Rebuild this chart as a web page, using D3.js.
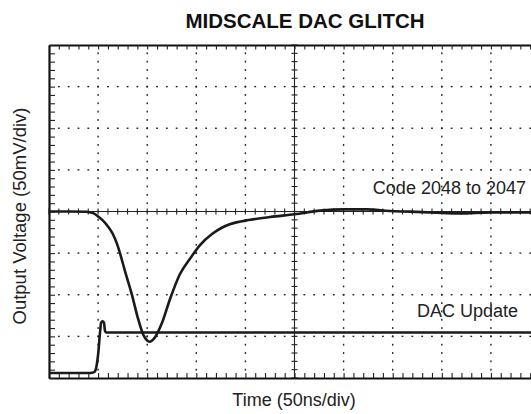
<!DOCTYPE html>
<html>
<head>
<meta charset="utf-8">
<script src="https://cdn.jsdelivr.net/npm/d3@7"></script>
<style>
  body { margin: 0; background: #fff; }
  svg { display: block; font-family: "Liberation Sans", Arial, sans-serif; }
</style>
</head>
<body>
<svg id="chart" width="531" height="414"></svg>
<script>
// glitch trace, Code 2048 -> 2047 (time ns, output mV)
const glitchTime = [0, 20, 38, 45, 50, 55, 60, 65, 69, 73, 77, 84, 91, 96, 100, 102, 105, 108, 115, 123, 133, 144, 154, 166, 176, 184, 205, 225, 250, 276, 300, 324, 347, 368, 395, 418, 450, 500];
const glitchMv   = [0, 0, -0.3, -2, -6, -11, -18, -27, -38, -53, -70, -98, -130, -148, -155, -156.5, -155, -151, -134, -106, -76, -56, -40, -27, -19.5, -15.4, -10, -6.6, -3.4, 1, 2.6, 2.6, 0.6, -0.2, -1.5, -2.2, -1, -1];

// DAC update strobe
const updateTime = [0, 42, 46, 48, 50, 52, 53, 54.5, 56, 57, 58, 500];
const updateMv   = [-194, -194, -193, -188, -172, -145, -134, -132, -133.5, -143.5, -145.4, -145.4];

const xTicksMajor = d3.range(0, 501, 50);
const xTicksMinor = d3.range(0, 501, 10);
const yTicksMajor = d3.range(-200, 201, 50);
const yTicksMinor = d3.range(-200, 201, 10);

const svg = d3.select("#chart");
const x = d3.scaleLinear().domain([0, 500]).range([49, 540]);
const y = d3.scaleLinear().domain([-200, 200]).range([378, 45]);

// dotted grid
const grid = svg.append("g").attr("fill", "#222");
xTicksMajor.filter(t => t > 0 && t < 500 && t !== 250).forEach(t => {
  grid.selectAll(null)
    .data(yTicksMinor.filter(v => v > -200 && v < 200))
    .join("rect")
    .attr("x", x(t) - 0.7)
    .attr("y", d => y(d) - 0.9)
    .attr("width", 1.4)
    .attr("height", 1.8);
});
yTicksMajor.filter(v => v > -200 && v < 200 && v !== 0).forEach(v => {
  grid.selectAll(null)
    .data(xTicksMinor.filter(t => t > 0))
    .join("rect")
    .attr("x", d => x(d) - 0.9)
    .attr("y", y(v) - 0.7)
    .attr("width", 1.8)
    .attr("height", 1.4);
});

// center cross
const cross = svg.append("g").attr("stroke", "#222").attr("stroke-width", 1.1);
cross.append("line")
  .attr("x1", x(0)).attr("x2", x(500)).attr("y1", y(0)).attr("y2", y(0));
cross.append("line")
  .attr("x1", x(250)).attr("x2", x(250)).attr("y1", y(-200)).attr("y2", y(200));
cross.selectAll(".hx")
  .data(xTicksMinor)
  .join("line")
  .attr("x1", d => x(d)).attr("x2", d => x(d))
  .attr("y1", y(0) - 3).attr("y2", y(0) + 3);
cross.selectAll(".vy")
  .data(yTicksMinor)
  .join("line")
  .attr("y1", d => y(d)).attr("y2", d => y(d))
  .attr("x1", x(250) - 3).attr("x2", x(250) + 3);

// border ticks
function edge(axis, transform, size) {
  const g = svg.append("g")
    .attr("transform", transform)
    .call(axis.tickSize(size).tickSizeOuter(0).tickFormat(""));
  g.select(".domain").attr("stroke", "#111").attr("stroke-width", 2.2);
  g.selectAll(".tick line").attr("stroke", "#222").attr("stroke-width", 1.1);
  return g;
}
edge(d3.axisBottom(x).tickValues(xTicksMinor), `translate(0,${y(200)})`, 4.5);
edge(d3.axisTop(x).tickValues(xTicksMinor), `translate(0,${y(-200)})`, 5);
edge(d3.axisRight(y).tickValues(yTicksMinor), `translate(${x(0)},0)`, 6);

// traces
const line = d3.line().x(d => x(d[0])).y(d => y(d[1])).curve(d3.curveMonotoneX);
svg.append("path")
  .datum(glitchTime.map((t, i) => [t, glitchMv[i]]))
  .attr("d", line)
  .attr("fill", "none")
  .attr("stroke", "#1a1a1a")
  .attr("stroke-width", 2.6);
svg.append("path")
  .datum(updateTime.map((t, i) => [t, updateMv[i]]))
  .attr("d", line)
  .attr("fill", "none")
  .attr("stroke", "#1a1a1a")
  .attr("stroke-width", 2.6);

// texts
svg.append("text")
  .attr("x", 305).attr("y", 28)
  .attr("text-anchor", "middle")
  .attr("font-size", 20.5).attr("font-weight", "bold")
  .attr("fill", "#111")
  .text("MIDSCALE DAC GLITCH");
svg.append("text")
  .attr("x", 526).attr("y", 194)
  .attr("text-anchor", "end")
  .attr("font-size", 18).attr("fill", "#222")
  .text("Code 2048 to 2047");
svg.append("text")
  .attr("x", 518).attr("y", 317)
  .attr("text-anchor", "end")
  .attr("font-size", 18).attr("fill", "#222")
  .text("DAC Update");
svg.append("text")
  .attr("x", 294).attr("y", 406)
  .attr("text-anchor", "middle")
  .attr("font-size", 18).attr("fill", "#222")
  .text("Time (50ns/div)");
svg.append("text")
  .attr("transform", "translate(26,216) rotate(-90)")
  .attr("text-anchor", "middle")
  .attr("font-size", 18.5).attr("fill", "#222")
  .text("Output Voltage (50mV/div)");
</script>
</body>
</html>
